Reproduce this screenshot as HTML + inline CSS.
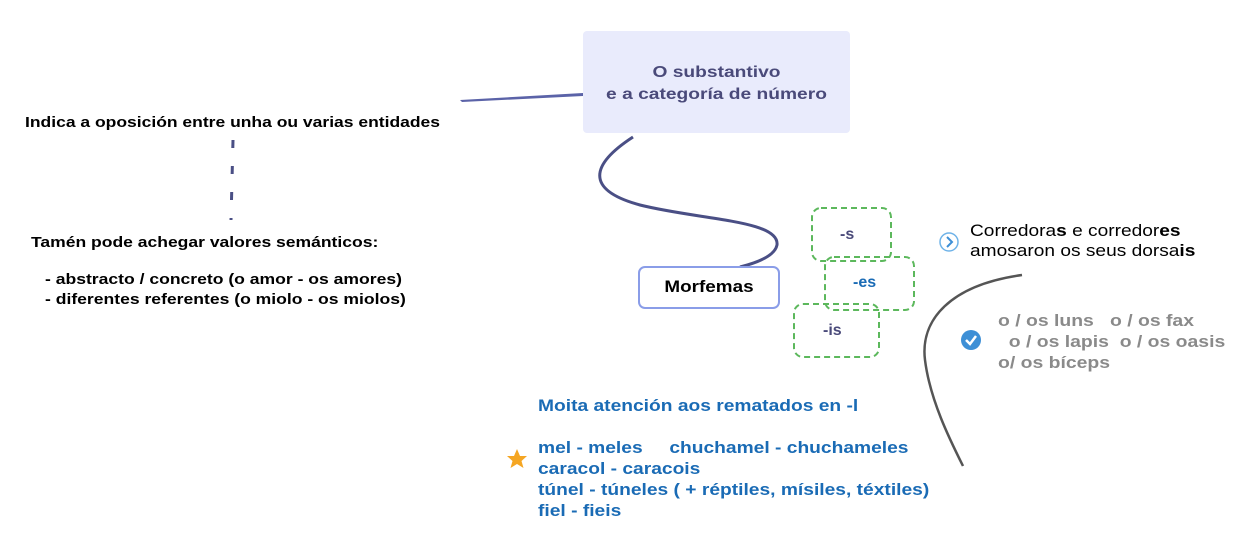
<!DOCTYPE html>
<html><head><meta charset="utf-8"><style>
body{margin:0;width:1244px;height:544px;background:#fff;position:relative;overflow:hidden;font-family:"Liberation Sans",sans-serif}
.t{position:absolute;white-space:pre;font-weight:bold;transform-origin:0 0}
</style></head><body>
<svg width="1244" height="544" style="position:absolute;left:0;top:0">
<path d="M583,93 L460,100 L462,102 L583,96Z" fill="#5b63a8"/>
<path d="M633,137 C590,165 585,190 640,205 C700,220 780,220 777,245 C775,255 760,262 740,267" fill="none" stroke="#4a4f85" stroke-width="3"/>
<path d="M233,140 L231,220" stroke="#4a4f85" stroke-width="3" stroke-dasharray="8,18" fill="none"/>
<path d="M1022,275 C950,285 920,320 925,360 C930,400 950,440 963,466" fill="none" stroke="#555" stroke-width="2.5"/>
<rect x="583" y="31" width="267" height="102" rx="4" fill="#e9ebfc"/>
<rect x="639" y="267" width="140" height="41" rx="6" fill="#fff" stroke="#8a9de8" stroke-width="2"/>
<rect x="812" y="208" width="79" height="53" rx="9" fill="none" stroke="#5cb85c" stroke-width="2" stroke-dasharray="6,4"/>
<rect x="825" y="257" width="89" height="53" rx="9" fill="none" stroke="#5cb85c" stroke-width="2" stroke-dasharray="6,4"/>
<rect x="794" y="304" width="85" height="53" rx="9" fill="none" stroke="#5cb85c" stroke-width="2" stroke-dasharray="6,4"/>
<circle cx="949" cy="242" r="9" fill="#fff" stroke="#6fb3e8" stroke-width="1.5"/>
<path d="M947,237 L952,242 L947,247" fill="none" stroke="#3d8fd6" stroke-width="2"/>
<circle cx="971" cy="340" r="10" fill="#3d8fd6"/>
<path d="M966,340 L970,344 L976,336" fill="none" stroke="#fff" stroke-width="2.5"/>
<path d="M517,449 L520,456 L527,456 L521.5,461 L523.5,468 L517,464 L510.5,468 L512.5,461 L507,456 L514,456Z" fill="#f5a623"/>
</svg>
<div class="t" style="left:583px;width:267px;top:62px;text-align:center;font-size:16px;line-height:22px;color:#4a4a7a;transform:scaleX(1.2);transform-origin:133.5px 0">O substantivo
e a categoría de número</div>
<div class="t" style="left:639px;width:140px;top:277px;text-align:center;font-size:17px;color:#000;transform:scaleX(1.11);transform-origin:70px 0">Morfemas</div>
<div class="t" style="left:840px;top:226px;font-size:16px;color:#4a4a7a">-s</div>
<div class="t" style="left:853px;top:274px;font-size:16px;color:#1a6bb5">-es</div>
<div class="t" style="left:823px;top:322px;font-size:16px;color:#4a4a7a">-is</div>
<div class="t" style="left:25px;top:114px;font-size:15px;color:#000;transform:scaleX(1.166)">Indica a oposición entre unha ou varias entidades</div>
<div class="t" style="left:31px;top:234px;font-size:15px;color:#000;transform:scaleX(1.168)">Tamén pode achegar valores semánticos:</div>
<div class="t" style="left:45px;top:270px;font-size:15px;line-height:20px;color:#000;transform:scaleX(1.17)">- abstracto / concreto (o amor - os amores)
- diferentes referentes (o miolo - os miolos)</div>
<div class="t" style="left:970px;top:221px;font-size:17px;line-height:20px;color:#000;font-weight:normal;transform:scaleX(1.125)">Corredora<b>s</b> e corredor<b>es</b>
amosaron os seus dorsa<b>is</b></div>
<div class="t" style="left:998px;top:310px;font-size:17px;line-height:21px;color:#8a8a8a;transform:scaleX(1.14)">o / os luns   o / os fax
  o / os lapis  o / os oasis
o/ os bíceps</div>
<div class="t" style="left:538px;top:395px;font-size:17px;line-height:21px;color:#1a6bb5;transform:scaleX(1.13)">Moita atención aos rematados en -l

mel - meles     chuchamel - chuchameles
caracol - caracois
túnel - túneles ( + réptiles, mísiles, téxtiles)
fiel - fieis</div>
</body></html>
